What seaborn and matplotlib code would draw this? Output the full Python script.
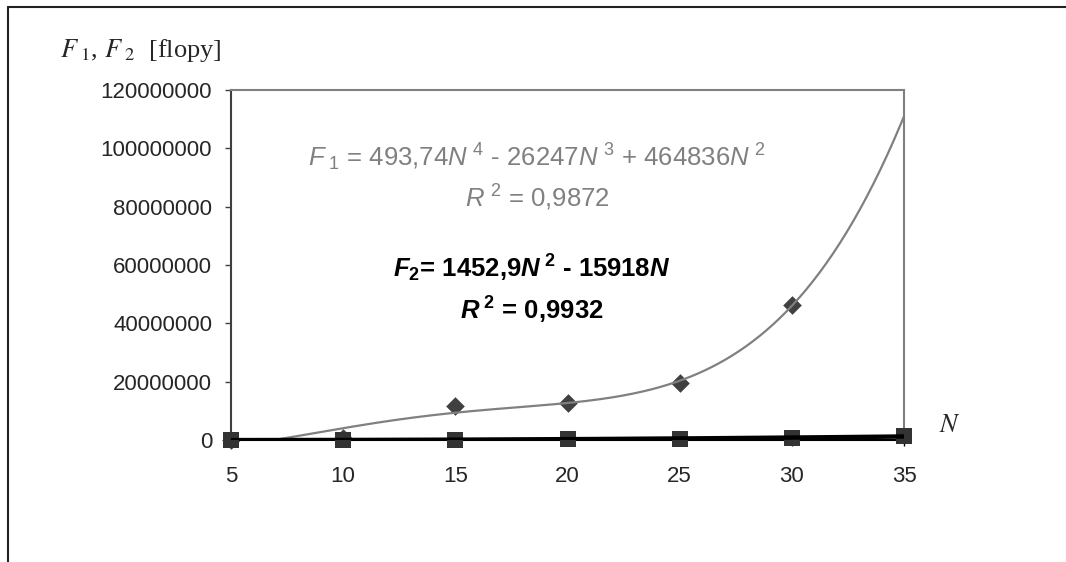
import matplotlib
matplotlib.use("Agg")
import matplotlib.pyplot as plt
import seaborn as sns
import numpy as np
from matplotlib.lines import Line2D

# values
n_f1 = [5, 10, 15, 20, 25, 30]
f1_flops = [0, 700000, 11650000, 12600000, 19700000, 46200000]
n_f2 = [5, 10, 15, 20, 25, 30, 35]
f2_flops = [20000, 40000, 100000, 270000, 500000, 820000, 1230000]
x_ticks = [5, 10, 15, 20, 25, 30, 35]
y_ticks = [0, 20000000, 40000000, 60000000, 80000000, 100000000, 120000000]

f1_eq = r"$\mathit{F}_{\ 1}$ = 493,74$\mathit{N}^{\ 4}$ - 26247$\mathit{N}^{\ 3}$ + 464836$\mathit{N}^{\ 2}$"
f1_r2 = r"$\mathit{R}^{\ 2}$ = 0,9872"
f2_eq = r"$\mathbfit{F}_{\mathbf{2}}$= 1452,9$\mathbfit{N}^{\ \mathbf{2}}$ - 15918$\mathbfit{N}$"
f2_r2 = r"$\mathbfit{R}^{\ \mathbf{2}}$ = 0,9932"

sns.set_style("white")
plt.rcParams['font.family'] = ['Liberation Sans', 'DejaVu Sans']
plt.rcParams['mathtext.fontset'] = 'custom'
plt.rcParams['mathtext.rm'] = 'Liberation Sans'
plt.rcParams['mathtext.it'] = 'Liberation Sans:italic'
plt.rcParams['mathtext.bf'] = 'Liberation Sans:bold'
plt.rcParams['mathtext.bfit'] = 'Liberation Sans:italic:bold'


def trend(n, f, powers, grid):
    # least squares polynomial with the intercept fixed at zero (Excel style)
    n = np.asarray(n, dtype=float)
    a = np.column_stack([n ** p for p in powers])
    coef = np.linalg.lstsq(a, np.asarray(f, dtype=float), rcond=None)[0]
    return np.column_stack([grid ** p for p in powers]) @ coef


grid = np.linspace(5, 35, 400)
f1_fit = trend(n_f1, f1_flops, [4, 3, 2, 1], grid)
f2_fit = trend(n_f2, f2_flops, [2, 1], grid)

fig = plt.figure(figsize=(10.66, 5.62), dpi=100)
ax = fig.add_axes([231 / 1066, 1 - 440 / 562, 673 / 1066, 350 / 562])

sns.scatterplot(x=n_f1, y=f1_flops, marker='D', s=90, color='#404040',
                linewidth=0, zorder=2, clip_on=False, ax=ax)
sns.lineplot(x=grid, y=f1_fit, color='#808080', lw=1.6, zorder=3, ax=ax)
sns.scatterplot(x=n_f2, y=f2_flops, marker='s', s=145, color='#333333',
                linewidth=0, zorder=4, clip_on=False, ax=ax)
sns.lineplot(x=grid, y=f2_fit, color='black', lw=3.2, zorder=5, ax=ax)

ax.set_xlim(5, 35)
ax.set_ylim(0, 120000000)
ax.set_xticks(x_ticks)
ax.set_yticks(y_ticks)
ax.set_xticklabels([str(v) for v in x_ticks])
ax.set_yticklabels([str(v) for v in y_ticks])
ax.set_xlabel('')
ax.set_ylabel('')
ax.tick_params(axis='x', direction='out', length=4, width=1, pad=15,
               labelsize=16, bottom=True, color='black')
ax.tick_params(axis='y', direction='out', length=4.5, width=1, pad=9,
               labelsize=16, left=True, color='#404040')

for side in ['top', 'right']:
    ax.spines[side].set_color('#808080')
    ax.spines[side].set_linewidth(1.5)
ax.spines['left'].set_color('#404040')
ax.spines['left'].set_linewidth(1.5)
ax.spines['bottom'].set_color('black')
ax.spines['bottom'].set_linewidth(1.5)

# trend line equations
for txt, x, y, kw in [(f1_eq, 537, 157, dict(color='#808080', fontsize=18.5)),
                      (f1_r2, 537, 198, dict(color='#808080', fontsize=18.5)),
                      (f2_eq, 532, 268, dict(color='black', fontweight='bold', fontsize=18.5)),
                      (f2_r2, 532, 310, dict(color='black', fontweight='bold', fontsize=18.5))]:
    fig.text(x / 1066, 1 - y / 562, txt, ha='center', va='center', **kw)

# axis titles in serif
fig.text(60 / 1066, 1 - 51 / 562, r"$F_{\ 1}$, $F_{\ 2}$  [flopy]",
         family='Liberation Serif', math_fontfamily='stix', fontsize=19,
         ha='left', va='center')
fig.text(950 / 1066, 1 - 425 / 562, r"$N$", math_fontfamily='stix',
         fontsize=19, ha='center', va='center')

# outer chart frame (top and left edges)
fig.add_artist(Line2D([8 / 1066, 1.0], [1 - 7 / 562, 1 - 7 / 562],
                      transform=fig.transFigure, color='#222222', lw=1.5))
fig.add_artist(Line2D([8 / 1066, 8 / 1066], [0.0, 1 - 7 / 562],
                      transform=fig.transFigure, color='#222222', lw=1.5))

fig.savefig('out.png', dpi=100)
